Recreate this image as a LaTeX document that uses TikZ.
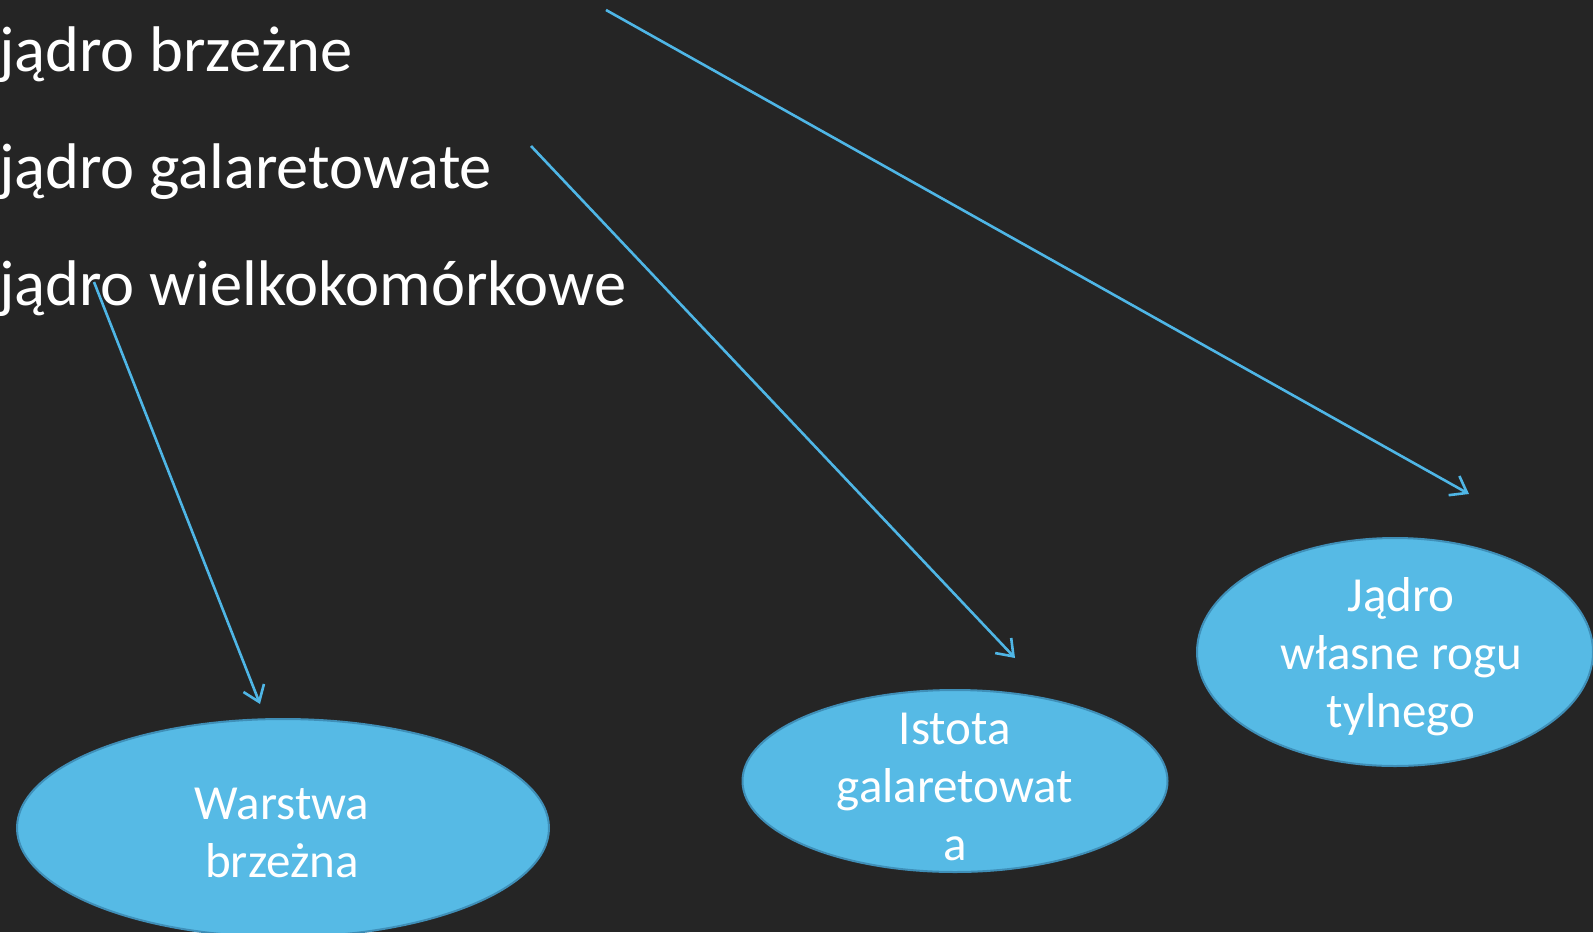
\documentclass[tikz,border=0pt]{standalone}
\usepackage{fontspec}
\setmainfont{Carlito}
\usetikzlibrary{shapes.geometric,arrows.meta}
\definecolor{board}{HTML}{252525}
\definecolor{bubblefill}{HTML}{56BAE5}
\definecolor{bubbleedge}{HTML}{3F8FB8}
\definecolor{arrowc}{HTML}{4FB6E6}
\begin{document}
\begin{tikzpicture}[x=1pt,y=-1pt,
  listtext/.style={text=white, font=\fontsize{64.5}{76}\selectfont, anchor=base west, inner sep=0pt},
  bubble/.style={ellipse, fill=bubblefill, draw=bubbleedge, line width=2pt, inner sep=0pt},
  bubbletext/.style={text=white, align=center, font=\fontsize{49}{58}\selectfont, inner sep=0pt},
  link/.style={draw=arrowc, line width=2.6pt, -{Straight Barb[length=15pt,width=22pt,line width=2.6pt]}}]
\fill[board] (0,0) rectangle (1593,932);
\useasboundingbox (0,0) rectangle (1593,932);

\node[listtext] (t1) at (-1,71) {jądro brzeżne};
\node[listtext] (t2) at (-1,188) {jądro galaretowate};
\node[listtext] (t3) at (-1,305) {jądro wielkokomórkowe};

\node[bubble, minimum width=396pt, minimum height=228pt] (jb) at (1395,652) {};
\node[bubbletext] (jbt) at (1401,657) {Jądro\\własne rogu\\tylnego};
\node[bubble, minimum width=425pt, minimum height=182pt] (ib) at (955,781) {};
\node[bubbletext] (ibt) at (955,787) {Istota\\galaretowat\\a};
\node[bubble, minimum width=532pt, minimum height=218pt] (wb) at (283,828) {};
\node[bubbletext] (wbt) at (282,833) {Warstwa\\brzeżna};

\coordinate (a1s) at (606,10);
\coordinate (a1e) at (1469,494);
\coordinate (a2s) at (531,146);
\coordinate (a2e) at (1015,658);
\coordinate (a3s) at (94,282);
\coordinate (a3e) at (260,704);
\draw[link] (a1s) -- (a1e);
\draw[link] (a2s) -- (a2e);
\draw[link] (a3s) -- (a3e);
\end{tikzpicture}
\end{document}
